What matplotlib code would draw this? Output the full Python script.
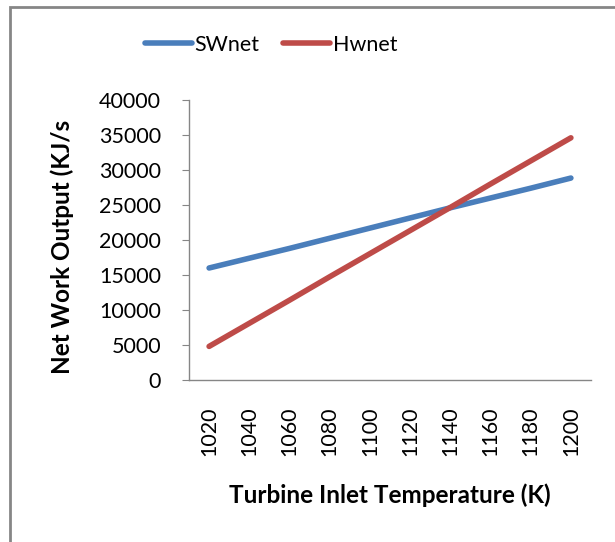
import matplotlib.pyplot as plt
from matplotlib.patches import Rectangle

# Data
temps = [1020, 1040, 1060, 1080, 1100, 1120, 1140, 1160, 1180, 1200]
sw_net = [16000, 17400, 18800, 20250, 21700, 23150, 24600, 26000, 27400, 28850]
hw_net = [4800, 8100, 11400, 14750, 18050, 21350, 24650, 28000, 31300, 34600]
y_ticks = [0, 5000, 10000, 15000, 20000, 25000, 30000, 35000, 40000]

BLUE = "#4A7EBB"
RED = "#BE4B48"
GRAY = "#868686"

plt.rcParams["font.family"] = ["Lato", "DejaVu Sans"]

fig = plt.figure(figsize=(6.15, 5.42), dpi=100)
ax = fig.add_axes([189 / 615, 1 - 380 / 542, 402 / 615, 280 / 542])

# Outer chart border (runs off the right and bottom edges)
fig.patches.append(Rectangle((10 / 615, -0.1), 1.2, 1 - 7 / 542 + 0.1,
                             transform=fig.transFigure, fill=False,
                             edgecolor=GRAY, linewidth=2))

x = list(range(len(temps)))
ax.plot(x, sw_net, color=BLUE, lw=4, solid_capstyle="round", label="SWnet")
ax.plot(x, hw_net, color=RED, lw=4, solid_capstyle="round", label="Hwnet")

ax.set_xlim(-0.5, len(temps) - 0.5)
ax.set_ylim(0, 40000)
ax.set_yticks(y_ticks)
ax.set_yticklabels([str(v) for v in y_ticks], fontsize=15.5)
ax.set_xticks(x)
ax.set_xticklabels([str(t) for t in temps], rotation=90, fontsize=15.5)

for side in ["top", "right"]:
    ax.spines[side].set_visible(False)
for side in ["left", "bottom"]:
    ax.spines[side].set_color(GRAY)
    ax.spines[side].set_linewidth(1)
ax.tick_params(axis="y", direction="out", length=5, color=GRAY, pad=15)
ax.tick_params(axis="x", length=0, pad=19)

fig.text(390 / 615, 1 - 495 / 542, "Turbine Inlet Temperature (K)",
         ha="center", va="center", fontsize=17.5, fontweight="bold")
fig.text(62 / 615, 1 - 247 / 542, "Net Work Output (KJ/s",
         ha="center", va="center", rotation=90, fontsize=17.5, fontweight="bold")

fig.legend(loc="center", bbox_to_anchor=(271 / 615, 1 - 45 / 542), ncol=2,
           frameon=False, fontsize=15.5, handlelength=2.2, handletextpad=0.1,
           columnspacing=1.1)

fig.savefig("out.png", dpi=100)
